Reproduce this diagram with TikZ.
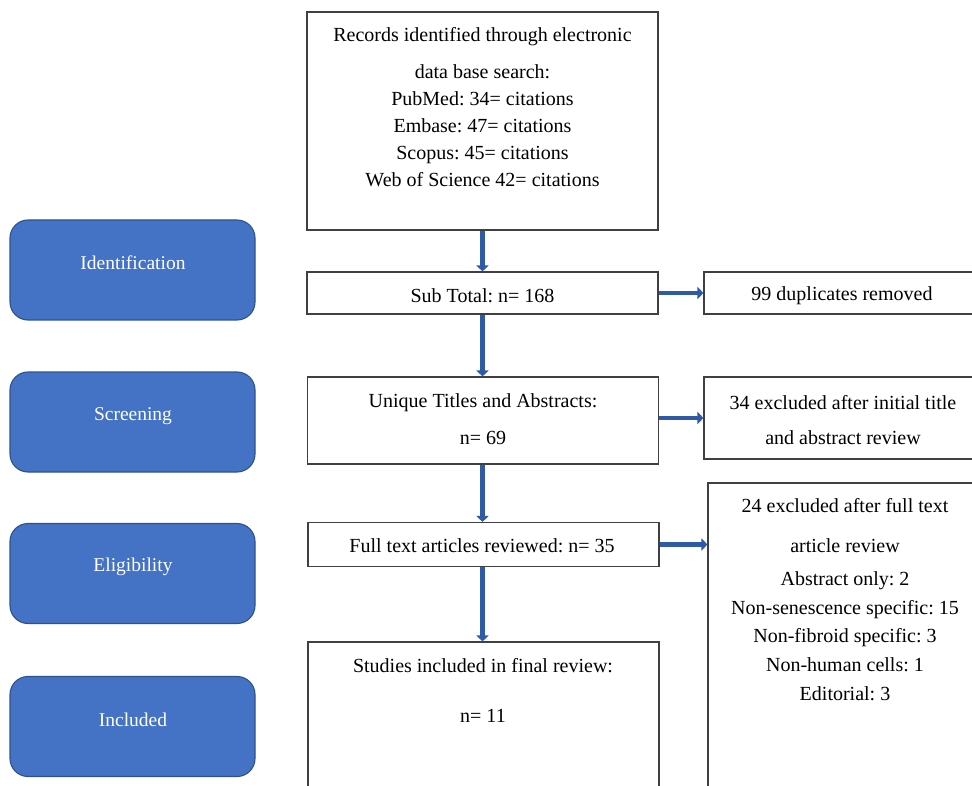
\documentclass[tikz,border=0pt]{standalone}
\usepackage{fontspec}
\setmainfont{Liberation Serif}
\usetikzlibrary{arrows.meta}
\definecolor{phasefill}{HTML}{4472C4}
\definecolor{phaseedge}{HTML}{2F528F}
\definecolor{arrowblue}{HTML}{2F5AA6}
\definecolor{boxedge}{HTML}{404040}
\tikzset{
  flowbox/.style={draw=boxedge, line width=1.1pt, fill=white, rectangle, inner sep=0pt},
  phasebox/.style={draw=phaseedge, line width=1.1pt, fill=phasefill, rounded corners=18pt,
     minimum width=245pt, minimum height=100pt, inner sep=0pt},
  phaselabel/.style={inner sep=0pt, text=white, font=\fontsize{19.5}{23}\selectfont},
  txt/.style={inner sep=0pt, font=\fontsize{20}{27}\selectfont, align=center},
  flowarrow/.style={draw=arrowblue, line width=4.6pt, -{Triangle[length=6pt,width=12pt]}}
}
\begin{document}
\frenchspacing
\begin{tikzpicture}[x=1pt,y=-1pt]
\useasboundingbox (0,0) rectangle (972,786);
\clip (0,0) rectangle (972,786);
\fill[white] (0,0) rectangle (972,786);
% phase boxes
\node[phasebox] (ident) at (132.5,270) {};
\node[phasebox] (screen) at (132.5,422) {};
\node[phasebox] (elig) at (132.5,573.5) {};
\node[phasebox] (incl) at (132.5,726.5) {};
\node[phaselabel] (identt) at (133,263) {Identification};
\node[phaselabel] (screent) at (133,416) {Screening};
\node[phaselabel] (eligt) at (133,567) {Eligibility};
\node[phaselabel] (inclt) at (133,720) {Included};
% main boxes
\node[flowbox, minimum width=351pt, minimum height=218pt] (rec) at (482.5,121) {};
\node[flowbox, minimum width=351pt, minimum height=42pt] (sub) at (482.5,293) {};
\node[flowbox, minimum width=351pt, minimum height=87pt] (uniq) at (483,420.5) {};
\node[flowbox, minimum width=351pt, minimum height=44pt] (full) at (483.5,544.5) {};
\node[flowbox, minimum width=351pt, minimum height=160pt] (stud) at (483.5,722) {};
\node[flowbox, minimum width=280pt, minimum height=42pt] (dup) at (844,293) {};
\node[flowbox, minimum width=280pt, minimum height=82pt] (exc1) at (844,418) {};
\node[flowbox, minimum width=280pt, minimum height=330pt] (exc2) at (848,648) {};
% texts
\node[txt, anchor=north] (rect) at (482.5,27) {Records identified through electronic\\[10pt]data base search:\\PubMed: 34= citations\\Embase: 47= citations\\Scopus: 45= citations\\Web of Science 42= citations};
\node[txt] (subt) at (482.5,296) {Sub Total: n= 168};
\node[txt] (uniqt) at (483,419) {Unique Titles and Abstracts:\\[10pt]n= 69};
\node[txt] (fullt) at (482,546) {Full text articles reviewed: n= 35};
\node[txt] (studt) at (483,690) {Studies included in final review:\\[23pt]n= 11};
\node[txt] (dupt) at (842,296) {99 duplicates removed};
\node[txt] (exc1t) at (843,420) {34 excluded after initial title\\[8pt]and abstract review};
\node[txt, anchor=north, font=\fontsize{20}{28}\selectfont] (exc2t) at (845,498) {24 excluded after full text\\[12pt]article review\\[5pt]Abstract only: 2\\[1pt]Non-senescence specific: 15\\Non-fibroid specific: 3\\[1pt]Non-human cells: 1\\[1pt]Editorial: 3};
% arrows
\draw[flowarrow] (rec.south -| sub.north) -- (sub.north);
\draw[flowarrow] (sub.south) -- (uniq.north -| sub.south);
\draw[flowarrow] (uniq.south -| sub.south) -- (full.north -| sub.south);
\draw[flowarrow] (full.south -| sub.south) -- (stud.north -| sub.south);
\draw[flowarrow] (sub.east) -- (dup.west |- sub.east);
\draw[flowarrow] (uniq.east |- exc1.west) -- (exc1.west);
\draw[flowarrow] (full.east) -- (exc2.west |- full.east);
\end{tikzpicture}
\end{document}
